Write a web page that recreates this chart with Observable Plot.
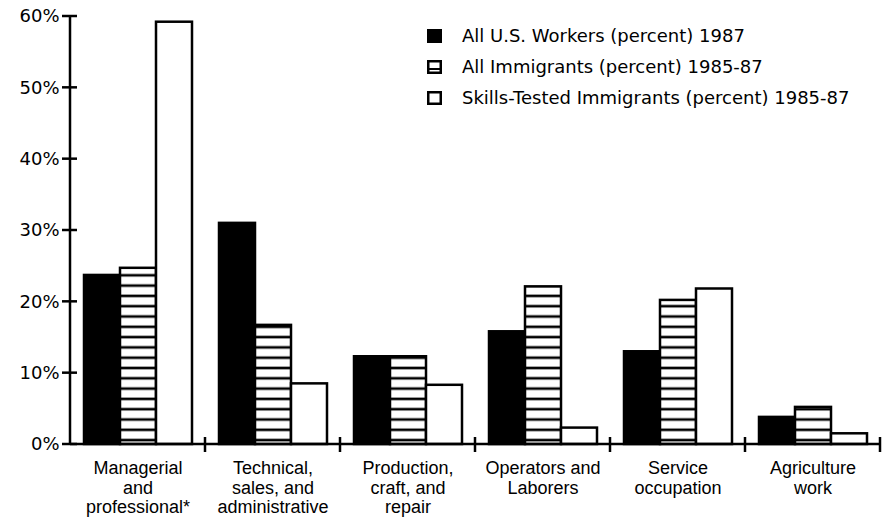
<!DOCTYPE html>
<html><head><meta charset="utf-8">
<script src="https://cdn.jsdelivr.net/npm/d3@7"></script>
<script src="https://cdn.jsdelivr.net/npm/@observablehq/plot@0.6"></script>
<style>
body{margin:0;background:#fff;}
#wrap{position:relative;width:892px;height:524px;overflow:hidden;}
.legend{position:absolute;left:427px;top:20px;font-family:"DejaVu Sans";font-size:18px;color:#000;}
.legend .row{display:flex;align-items:center;height:31px;white-space:nowrap;}
.legend svg{margin-right:20px;}
</style></head><body><div id="wrap"></div>
<script>
const categories = ["Managerial\nand\nprofessional*", "Technical,\nsales, and\nadministrative", "Production,\ncraft, and\nrepair", "Operators and\nLaborers", "Service\noccupation", "Agriculture\nwork"];
const series = ["All U.S. Workers (percent) 1987", "All Immigrants (percent) 1985-87", "Skills-Tested Immigrants (percent) 1985-87"];
const usWorkers = [23.7, 31.0, 12.3, 15.8, 13.0, 3.8];
const allImmigrants = [24.7, 16.7, 12.3, 22.1, 20.2, 5.2];
const skillsTested = [59.2, 8.5, 8.3, 2.3, 21.8, 1.5];
const yTicks = [0, 10, 20, 30, 40, 50, 60];

const valuesBySeries = [usWorkers, allImmigrants, skillsTested];
const data = [];
categories.forEach((c, i) => series.forEach((s, j) => data.push({category: c, series: s, value: valuesBySeries[j][i]})));

const plot = Plot.plot({
  width: 892, height: 524,
  marginLeft: 68, marginRight: 11, marginTop: 16, marginBottom: 80,
  style: {fontFamily: "DejaVu Sans", fontSize: "18px", color: "#000", background: "#fff", overflow: "visible"},
  fx: {domain: categories, padding: 0, label: null},
  x: {domain: series, paddingInner: 0, paddingOuter: 0.36, axis: null},
  y: {domain: [0, 60], label: null},
  color: {domain: series, range: ["#000", "url(#hstripes)", "#fff"]},
  marks: [
    Plot.axisFx({anchor: "bottom", tickSize: 0, tickPadding: 16, label: null, fontFamily: "Liberation Sans", fontSize: 18, lineHeight: 1.08}),
    Plot.axisY({ticks: yTicks, tickFormat: d => d + "%", tickSize: 0, tickPadding: 11, label: null, fontSize: 18}),
    Plot.barY(data, {fx: "category", x: "series", y: "value", fill: "series", stroke: "#000", strokeWidth: 2.5})
  ]
});

const svg = d3.select(plot);
const defs = svg.insert("defs", ":first-child");
const pat = defs.append("pattern").attr("id", "hstripes").attr("patternUnits", "userSpaceOnUse")
  .attr("width", 10).attr("height", 10.3);
pat.append("rect").attr("width", 10).attr("height", 10.3).attr("fill", "#fff");
pat.append("rect").attr("y", 6.2).attr("width", 10).attr("height", 2.6).attr("fill", "#000");

const fx = plot.scale("fx"), y = plot.scale("y");
const y0 = y.apply(0), x0 = fx.apply(categories[0]);
const xEnd = fx.apply(categories[categories.length - 1]) + fx.bandwidth;
const g = svg.append("g").attr("stroke", "#000").attr("stroke-width", 2.5);
g.append("line").attr("x1", x0).attr("x2", x0).attr("y1", y.apply(60) - 1).attr("y2", y0 + 1);
g.append("line").attr("x1", x0).attr("x2", xEnd).attr("y1", y0).attr("y2", y0);
yTicks.forEach(t => g.append("line").attr("x1", x0 - 8).attr("x2", x0 + 7).attr("y1", y.apply(t)).attr("y2", y.apply(t)));
categories.forEach(c => {
  const xr = fx.apply(c) + fx.bandwidth;
  g.append("line").attr("x1", xr).attr("x2", xr).attr("y1", y0 - 7).attr("y2", y0 + 8);
});

const wrap = document.getElementById("wrap");
wrap.appendChild(plot);

const swatches = [
  '<svg width="15" height="14"><rect x="1" y="1" width="13" height="12" fill="#000" stroke="#000" stroke-width="2"/></svg>',
  '<svg width="15" height="14"><rect x="1.25" y="1.25" width="12.5" height="11.5" fill="#fff" stroke="#000" stroke-width="2.5"/><line x1="1" x2="14" y1="9" y2="9" stroke="#000" stroke-width="2"/></svg>',
  '<svg width="15" height="14"><rect x="1.25" y="1.25" width="12.5" height="11.5" fill="#fff" stroke="#000" stroke-width="2.5"/></svg>'
];
const legend = document.createElement("div");
legend.className = "legend";
series.forEach((s, i) => {
  const row = document.createElement("div");
  row.className = "row";
  row.innerHTML = swatches[i];
  const span = document.createElement("span");
  span.textContent = s;
  row.appendChild(span);
  legend.appendChild(row);
});
wrap.appendChild(legend);
</script></body></html>
